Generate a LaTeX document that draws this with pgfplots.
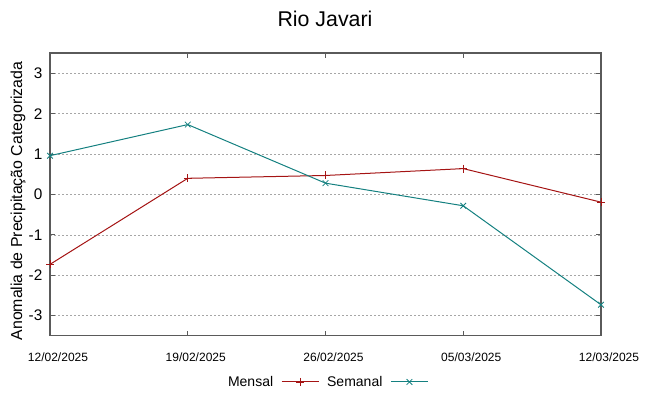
\documentclass[border=0pt]{standalone}
\usepackage{pgfplots}
\pgfplotsset{compat=1.18}
\usepackage{fontspec}
\setmainfont{Liberation Sans}
\definecolor{mensal}{RGB}{165,20,20}
\definecolor{semanal}{RGB}{20,128,128}
\definecolor{framec}{RGB}{90,90,90}
\begin{document}
\begin{tikzpicture}
\path[use as bounding box] (0,0) rectangle (486.75pt,297pt);
\begin{axis}[
  at={(37.5pt,45.1pt)}, anchor=south west,
  scale only axis, width=413.25pt, height=212.1pt,
  xmin=0, xmax=28, ymin=-3.5, ymax=3.5,
  xtick={0,7,14,21,28},
  xticklabels={12/02/2025,19/02/2025,26/02/2025,05/03/2025,12/03/2025},
  ytick={-3,-2,-1,0,1,2,3},
  /pgf/number format/assume math mode=true,
  tick align=inside,
  major tick length=4pt,
  axis line style={framec, line width=0.9pt},
  tick style={framec, line width=0.6pt},
  ymajorgrids,
  grid style={gray!70, line width=0.5pt, dash pattern=on 1.5pt off 1.5pt},
  xticklabel style={font=\fontsize{9}{10}\selectfont, xshift=6pt, yshift=-8.8pt},
  yticklabel style={font=\fontsize{11.5}{12}\selectfont, xshift=-2.2pt},
  clip=false,
  legend columns=2,
  legend plot pos=right,
  legend style={draw=none, fill=none, at={(0.5025,-0.163)}, anchor=center,
    font=\fontsize{10.5}{12}\selectfont,
    /tikz/every even column/.append style={column sep=4pt}},
  legend image code/.code={\path (0pt,0pt); \draw[mark repeat=2,mark phase=2] plot coordinates {(4pt,0pt) (17.9pt,0pt) (31.75pt,0pt)};},
]
\addplot[mensal, line width=0.75pt, mark=+, mark size=3pt, mark options={line width=0.6pt}] coordinates {
(0,-1.73) (7,0.40) (14,0.47) (21,0.64) (28,-0.19)};
\addlegendentry{Mensal}
\addplot[semanal, line width=0.75pt, mark=x, mark size=3pt, mark options={line width=0.6pt}] coordinates {
(0,0.96) (7,1.73) (14,0.28) (21,-0.28) (28,-2.73)};
\addlegendentry{Semanal}
\end{axis}
\node[font=\fontsize{16}{18}\selectfont] at (243.75pt,282.5pt) {Rio Javari};
\node[rotate=90, font=\fontsize{11.9}{13}\selectfont] at (13.5pt,146.25pt) {Anomalia de Precipitação Categorizada};
\end{tikzpicture}
\end{document}
